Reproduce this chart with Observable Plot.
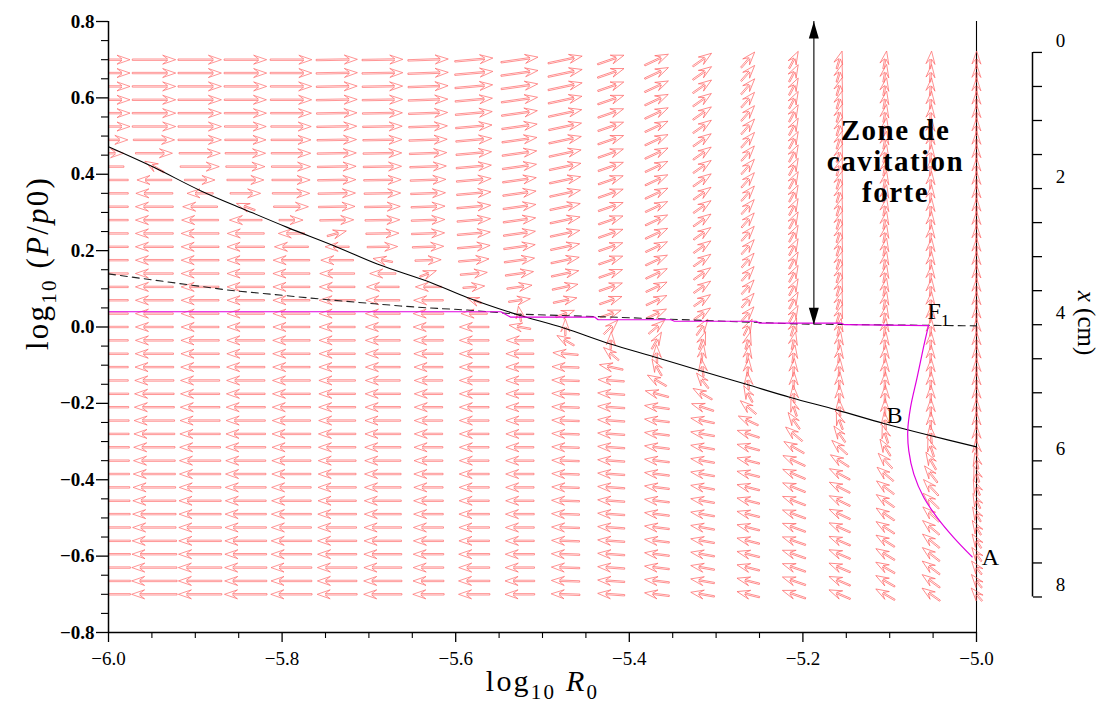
<!DOCTYPE html>
<html><head><meta charset="utf-8">
<script src="https://cdn.jsdelivr.net/npm/d3@7"></script>
<script src="https://cdn.jsdelivr.net/npm/@observablehq/plot@0.6"></script>
<style>
body{margin:0;background:#fff}
svg{display:block}
svg text{font-family:'Liberation Serif','Times New Roman',serif !important}
</style>
</head><body><div id="chart"></div>
<script>
// ---------- grid of the direction field ----------
const gridLogR0 = [-6.0,-5.9474,-5.8947,-5.8421,-5.7895,-5.7368,-5.6842,-5.6316,-5.5789,-5.5263,-5.4737,-5.4211,-5.3684,-5.3158,-5.2632,-5.2105,-5.1579,-5.1053,-5.0526,-5.0];
const gridLogP = [0.7,0.665,0.63,0.595,0.56,0.525,0.49,0.455,0.42,0.385,0.35,0.315,0.28,0.245,0.21,0.175,0.14,0.105,0.07,0.035,0,-0.035,-0.07,-0.105,-0.14,-0.175,-0.21,-0.245,-0.28,-0.315,-0.35,-0.385,-0.42,-0.455,-0.49,-0.525,-0.56,-0.595,-0.63,-0.665,-0.7];

// direction of each arrow (degrees, counter-clockwise from +R0), one array per column, top row first
const arrowAngleByColumn = [
[0,0,0,0,0,0,0,0,180,180,180,180,180,180,180,180,180,180,180,180,180,180,180,180,180,180,180,180,180,180,180,180,180,180,180,180,180,180,180,180,180],
[0,0,0,0,0,0,0,0,150,180,180,180,180,180,180,180,180,180,180,180,180,180,180,180,180,180,180,180,180,180,180,180,180,180,180,180,180,180,180,180,180],
[0,0,0,0,0,0,0,0,0,0,180,180,180,180,180,180,180,180,180,180,180,180,180,180,180,180,180,180,180,180,180,180,180,180,180,180,180,180,180,180,180],
[0,0,0,0,0,0,0,0,0,0,0,160,180,180,180,180,180,180,180,180,180,180,180,180,180,180,180,180,180,180,180,180,180,180,180,180,180,180,180,180,180],
[0,0,0,0,0,0,0,0,0,0,0,0,0,180,180,180,180,180,180,180,180,180,180,180,180,180,180,180,180,180,180,180,180,180,180,180,180,180,180,180,180],
[1,1,1,1,1,1,1,1,1,1,1,1,1,15,180,180,180,180,180,180,180,180,180,180,180,180,180,180,180,180,180,180,180,180,180,180,180,180,180,180,180],
[1,1,1,1,1,1,1,1,1,1,1,1,1,1,1,170,180,180,180,180,180,180,180,180,180,180,180,180,180,180,180,180,180,180,180,180,180,180,180,180,180],
[2,2,2,2,2,2,2,2,2,2,2,2,2,2,2,2,20,180,180,180,180,180,180,180,180,180,180,180,180,180,180,180,180,180,180,180,180,180,180,180,180],
[5,5,5,5,5,5,5,5,5,5,5,5,5,5,5,5,5,5,160,180,180,180,180,180,180,180,180,180,180,180,180,180,180,180,180,180,180,180,180,180,180],
[8,8,8,8,8,8,8,8,8,8,8,8,8,8,8,8,8,8,8,100,170,180,180,180,180,180,180,180,180,180,180,180,180,180,180,180,180,180,180,180,180],
[12,12,12,12,12,12,12,12,12,12,12,12,12,12,12,12,12,12,12,20,90,150,175,178,178,178,178,178,178,178,178,178,178,178,178,178,178,178,178,178,178],
[19,19,19,19,19,19,19,19,19,19,19,19,19,19,19,19,19,19,19,19,45,88,140,168,176,176,176,176,176,176,176,176,176,176,176,176,176,176,176,176,176],
[25,25,25,25,25,25,25,25,25,25,25,25,25,25,25,25,25,25,25,25,40,60,92,120,150,165,172,173,173,173,173,173,173,173,173,173,173,173,173,173,173],
[35,35,35,35,35,35,35,35,35,35,35,35,35,35,35,35,35,35,35,35,55,70,82,97,128,150,162,168,170,170,170,170,170,170,170,170,170,170,170,170,170],
[49,49,49,49,49,49,49,49,49,49,49,49,49,49,49,49,49,49,49,49,63,74,81,86,95,118,140,155,162,165,166,166,166,166,166,166,166,166,166,166,166],
[62,62,62,62,62,62,62,62,62,62,62,62,62,62,62,62,62,62,62,62,72,78,82,86,88,94,108,125,140,150,155,157,158,159,160,160,161,161,161,161,161],
[73,73,73,73,73,73,73,73,73,73,73,73,73,73,73,73,73,73,73,73,78,82,83,86,87,89,95,110,125,138,147,152,153,154,155,156,157,157,157,157,157],
[80,80,80,80,80,80,80,80,80,80,80,80,80,80,80,80,80,80,80,80,83,84,85,86,87,88,89,95,108,122,133,140,143,145,146,147,148,149,150,150,150],
[85,85,85,85,85,85,85,85,85,85,85,85,85,85,85,85,85,85,85,85,87,87,87,87,87,89,89,89,95,108,120,128,133,136,138,140,141,142,143,144,145],
[89,89,89,89,89,89,89,89,89,89,89,89,89,89,89,89,89,89,89,89,90,90,90,90,90,90,90,90,90,95,102,108,113,116,119,121,123,125,127,128,130]
];

// relative magnitude of each arrow (1 = longest arrows of the upper-left), one array per column
const arrowMagnitudeByColumn = [
[1,1,1,1,1,1,.9,.7,.7,.9,.9,.9,.9,.9,.9,.9,.9,.9,.9,.9,.9,.9,.9,.9,.9,.92,.92,.94,.94,.95,.95,.96,.97,.98,.99,1,1,1,1,1,1],
[1,1,1,1,1,1,.95,.85,.5,.8,.85,.87,.87,.87,.87,.87,.87,.87,.87,.87,.87,.87,.88,.89,.9,.91,.92,.93,.94,.95,.96,.97,.98,.99,1,1,1.02,1.03,1.04,1.05,1.05],
[1,1,1,1,1,1,1,.95,.9,.7,.6,.8,.85,.87,.87,.87,.87,.87,.87,.87,.87,.88,.88,.89,.9,.9,.91,.92,.93,.94,.95,.95,.96,.97,.97,.98,.98,.99,1,1,1],
[.98,.98,.98,.97,.97,.96,.95,.93,.9,.85,.7,.45,.75,.85,.86,.86,.86,.86,.86,.86,.86,.87,.87,.88,.88,.89,.9,.9,.91,.92,.92,.93,.94,.94,.95,.95,.96,.96,.97,.97,.98],
[.96,.96,.95,.95,.94,.93,.92,.91,.9,.88,.86,.8,.55,.6,.78,.84,.85,.85,.85,.85,.85,.86,.86,.86,.87,.87,.88,.88,.89,.89,.9,.9,.91,.91,.92,.92,.93,.93,.94,.94,.95],
[.95,.95,.94,.94,.93,.92,.91,.9,.89,.88,.86,.84,.78,.45,.55,.75,.8,.82,.83,.83,.83,.83,.83,.84,.84,.84,.85,.85,.86,.86,.87,.87,.88,.88,.89,.89,.9,.9,.91,.91,.92],
[.94,.94,.93,.93,.92,.91,.9,.89,.88,.86,.84,.82,.8,.76,.7,.45,.6,.75,.78,.8,.8,.8,.8,.8,.8,.81,.81,.82,.82,.83,.83,.84,.84,.85,.85,.86,.86,.87,.87,.88,.88],
[.93,.93,.92,.91,.9,.89,.88,.86,.84,.82,.8,.78,.77,.76,.72,.6,.4,.6,.68,.7,.7,.68,.67,.66,.65,.65,.65,.65,.65,.66,.66,.67,.67,.68,.68,.69,.69,.7,.7,.71,.72],
[.88,.88,.87,.86,.85,.84,.83,.82,.81,.8,.79,.78,.77,.76,.75,.7,.62,.5,.35,.6,.68,.68,.68,.68,.68,.68,.68,.68,.68,.68,.68,.69,.69,.69,.7,.7,.7,.71,.71,.72,.72],
[.86,.86,.85,.84,.83,.82,.81,.8,.79,.78,.77,.76,.75,.74,.73,.7,.65,.58,.5,.35,.5,.62,.64,.64,.64,.64,.64,.64,.64,.64,.65,.65,.65,.65,.66,.66,.66,.67,.67,.68,.68],
[.8,.8,.8,.79,.78,.77,.76,.75,.74,.73,.72,.71,.7,.69,.68,.66,.64,.6,.55,.45,.38,.45,.58,.62,.63,.63,.63,.63,.63,.63,.63,.63,.63,.64,.64,.64,.64,.65,.65,.65,.66],
[.64,.64,.63,.63,.62,.62,.62,.61,.61,.6,.6,.6,.59,.59,.58,.58,.57,.56,.54,.5,.45,.4,.45,.55,.6,.62,.62,.62,.62,.62,.62,.62,.62,.62,.62,.62,.62,.62,.62,.62,.62],
[.6,.6,.6,.59,.59,.58,.58,.58,.57,.57,.57,.56,.56,.56,.55,.55,.54,.53,.52,.5,.47,.44,.42,.44,.5,.55,.57,.57,.57,.57,.57,.57,.57,.57,.57,.57,.57,.57,.57,.57,.57],
[.52,.52,.52,.51,.51,.51,.5,.5,.5,.5,.49,.49,.49,.48,.48,.48,.47,.47,.46,.46,.45,.43,.42,.41,.44,.5,.53,.55,.55,.55,.55,.55,.55,.55,.55,.55,.55,.55,.55,.55,.55],
[.47,.47,.47,.46,.46,.46,.46,.45,.45,.45,.45,.44,.44,.44,.44,.43,.43,.43,.43,.42,.42,.41,.41,.4,.4,.42,.47,.5,.53,.53,.53,.53,.53,.53,.53,.53,.53,.53,.53,.53,.53],
[.44,.44,.44,.44,.44,.44,.44,.44,.44,.44,.43,.43,.43,.43,.43,.43,.43,.43,.43,.43,.42,.41,.41,.4,.4,.4,.42,.46,.5,.53,.56,.56,.56,.56,.56,.56,.56,.56,.56,.56,.56],
[.42,.42,.42,.42,.42,.42,.42,.42,.42,.42,.42,.42,.42,.42,.42,.42,.42,.42,.42,.42,.41,.41,.4,.4,.4,.4,.4,.42,.45,.48,.5,.53,.53,.53,.53,.53,.53,.53,.53,.53,.53],
[.41,.41,.41,.41,.41,.41,.41,.41,.41,.41,.41,.41,.41,.41,.41,.41,.41,.41,.41,.41,.4,.4,.4,.4,.4,.4,.4,.41,.43,.45,.47,.49,.5,.5,.5,.5,.5,.5,.5,.5,.5],
[.4,.4,.4,.4,.4,.4,.4,.4,.4,.4,.4,.4,.4,.4,.4,.4,.4,.4,.4,.4,.4,.4,.4,.4,.4,.4,.4,.4,.42,.44,.46,.48,.5,.5,.5,.5,.5,.5,.5,.5,.5],
[.4,.4,.4,.4,.4,.4,.4,.4,.4,.4,.4,.4,.4,.4,.4,.4,.4,.4,.4,.4,.4,.4,.4,.4,.4,.4,.4,.4,.4,.38,.38,.38,.38,.38,.38,.38,.38,.38,.38,.38,.38]
];

// ---------- curves ----------
const nullclineLogR0 = [-6.0,-5.9478,-5.894,-5.8402,-5.7941,-5.7404,-5.6904,-5.629,-5.5868,-5.5311,-5.4755,-5.4217,-5.3718,-5.318,-5.2661,-5.2143,-5.1605,-5.1068,-5.0568,-5.0];
const nullclineLogP  = [0.472,0.4182,0.3571,0.3047,0.2609,0.213,0.165,0.1168,0.0775,0.034,-0.0027,-0.0446,-0.0779,-0.1146,-0.1494,-0.1846,-0.2176,-0.2527,-0.2823,-0.314];

const dashedLogR0 = [-6.0,-5.8633,-5.7442,-5.6636,-5.629,-5.5868,-5.5311,-5.4332,-5.2834,-5.2028,-5.015,-5.0];
const dashedLogP  = [0.139,0.0969,0.0707,0.055,0.0497,0.0445,0.034,0.027,0.0146,0.0078,0.0034,0.003];

const pathStairLogR0 = [-6.0,-5.548,-5.537,-5.44,-5.436,-5.352,-5.348,-5.254,-5.25,-5.156,-5.152,-5.0553];
const pathStairLogP  = [0.040,0.040,0.026,0.026,0.019,0.019,0.015,0.015,0.010,0.010,0.006,0.0034];

const pathCurveLogR0 = [-5.0553,-5.0611,-5.0684,-5.076,-5.0792,-5.078,-5.0722,-5.0607,-5.0453,-5.0262,-5.005];
const pathCurveLogP  = [0.0034,-0.0535,-0.1321,-0.2107,-0.2718,-0.3242,-0.3853,-0.4466,-0.499,-0.5514,-0.602];

// ---------- annotations ----------
const zoneArrow = {x: -5.1874, top: 0.8, bottom: 0.006};
const zoneLabel = {x: -5.0933, y: 0.434, text: "Zone de\ncavitation\nforte"};
const pointLabels = [
  {text: "F1", x: -5.0438, y: 0.040},
  {text: "B", x: -5.0945, y: -0.2325},
  {text: "A", x: -4.9839, y: -0.602}
];

// ---------- ticks ----------
const yMajorTicks = [-0.8,-0.6,-0.4,-0.2,0,0.2,0.4,0.6,0.8];
const yMinorTicks = [-0.75,-0.7,-0.65,-0.55,-0.5,-0.45,-0.35,-0.3,-0.25,-0.15,-0.1,-0.05,0.05,0.1,0.15,0.25,0.3,0.35,0.45,0.5,0.55,0.65,0.7,0.75];
const xMajorTicks = [-6.0,-5.8,-5.6,-5.4,-5.2,-5.0];
const xMinorTicks = [-5.95,-5.9,-5.85,-5.75,-5.7,-5.65,-5.55,-5.5,-5.45,-5.35,-5.3,-5.25,-5.15,-5.1,-5.05];
// secondary axis: position x (cm); its 0 cm and 8 cm ends expressed on the log10(P/p0) scale
const cmAxisDomain = [0, 8];
const cmAxisOnLogP = [0.719, -0.707];
const cmTicks = [0,0.5,1,1.5,2,2.5,3,3.5,4,4.5,5,5.5,6,6.5,7,7.5,8];
const cmTickLabels = [0,2,4,6,8];

// ---------- build tables ----------
const arrows = [];
gridLogR0.forEach((x, j) => gridLogP.forEach((y, i) => {
  arrows.push({x, y, col: j, angle: arrowAngleByColumn[j][i], mag: arrowMagnitudeByColumn[j][i]});
}));
const zip = (xs, ys) => xs.map((x, k) => ({x, y: ys[k]}));
const nullcline = zip(nullclineLogR0, nullclineLogP);
const dashed = zip(dashedLogR0, dashedLogP);
const pathStair = zip(pathStairLogR0, pathStairLogP);
const pathCurve = zip(pathCurveLogR0, pathCurveLogP);
const cmToLogP = d3.scaleLinear(cmAxisDomain, cmAxisOnLogP);

// quiver-style outlined arrow with swept-back barbs (head of constant size)
const quiverShape = {
  draw(context, l) {
    const hl = Math.min(13, l * 0.8), hw = 4.5, sw = 0.7, hb = hl * 0.62;
    context.moveTo(-sw, 0);
    context.lineTo(-sw, -l + hb);
    context.lineTo(-hw, -l + hl);
    context.lineTo(0, -l);
    context.lineTo(hw, -l + hl);
    context.lineTo(sw, -l + hb);
    context.lineTo(sw, 0);
    context.closePath();
  }
};
const solidHead = {
  draw(context, l) {
    context.moveTo(0, -l);
    context.lineTo(-5, 0);
    context.lineTo(5, 0);
    context.closePath();
  }
};

const arrowStyle = {
  x: "x", y: "y", rotate: d => 90 - d.angle, length: "mag", anchor: "middle",
  shape: quiverShape, stroke: "#ff6464", strokeOpacity: 0.85, strokeWidth: 0.8, fill: "none"
};

const svg = Plot.plot({
  width: 1106, height: 718,
  marginLeft: 108, marginRight: 130, marginTop: 21, marginBottom: 86,
  style: "font-family: 'Liberation Serif', 'Times New Roman', serif; background: white; color: black; overflow: visible;",
  x: {domain: [-6, -5]},
  y: {domain: [-0.8, 0.8]},
  length: {domain: [0, 1], range: [0, 43]},
  marks: [
    Plot.ruleX([-5.0], {stroke: "black", strokeWidth: 1.1}),
    Plot.vector(arrows.filter(d => d.col === 0), {...arrowStyle, clip: true}),
    Plot.vector(arrows.filter(d => d.col > 0), arrowStyle),
    Plot.line(dashed, {x: "x", y: "y", stroke: "#222", strokeWidth: 1.1, strokeDasharray: "7,5"}),
    Plot.line(nullcline, {x: "x", y: "y", curve: "catmull-rom", stroke: "black", strokeWidth: 1.1}),
    Plot.line(pathStair, {x: "x", y: "y", stroke: "#e000e0", strokeWidth: 1.2}),
    Plot.line(pathCurve, {x: "x", y: "y", curve: "catmull-rom", stroke: "#e000e0", strokeWidth: 1.2}),
    // double-headed arrow of the strong cavitation zone
    Plot.ruleX([zoneArrow], {x: "x", y1: "bottom", y2: "top", stroke: "#444", strokeWidth: 1.5}),
    Plot.vector([zoneArrow], {x: "x", y: "top", rotate: 0, length: 17, anchor: "end", shape: solidHead, fill: "black", stroke: "none"}),
    Plot.vector([zoneArrow], {x: "x", y: "bottom", rotate: 180, length: 17, anchor: "end", shape: solidHead, fill: "black", stroke: "none"}),
    Plot.text([zoneLabel], {x: "x", y: "y", text: "text", fontWeight: "bold", fontSize: 29, lineHeight: 1.07}),
    Plot.text(pointLabels, {x: "x", y: "y", text: "text", fontSize: 24, textAnchor: d => d.text === "F1" ? "start" : "middle"}),
    // left axis
    Plot.ruleX([-6], {stroke: "black", strokeWidth: 1.5}),
    Plot.axisY(yMajorTicks, {anchor: "left", tickSize: 12, tickPadding: 2, strokeWidth: 1.3, tickFormat: d3.format(".1f"), fontSize: 19, fontWeight: "bold", label: null}),
    Plot.axisY(yMinorTicks, {anchor: "left", tickSize: 7, strokeWidth: 1.1, tickFormat: () => "", label: null}),
    // bottom axis
    Plot.ruleY([-0.8], {stroke: "black", strokeWidth: 1.5}),
    Plot.axisX(xMajorTicks, {anchor: "bottom", tickSize: 10, tickPadding: 9, strokeWidth: 1.3, tickFormat: d3.format(".1f"), fontSize: 19, label: null}),
    Plot.axisX(xMinorTicks, {anchor: "bottom", tickSize: 6, strokeWidth: 1.1, tickFormat: () => "", label: null}),
    // secondary axis x (cm)
    Plot.ruleX([{x: -5.0, y1: cmToLogP(0), y2: cmToLogP(8)}], {x: "x", y1: "y1", y2: "y2", dx: 56, stroke: "black", strokeWidth: 1.5}),
    Plot.axisY(cmTicks.map(cmToLogP), {anchor: "right", dx: 56, tickSize: 9, strokeWidth: 1.3, tickFormat: () => "", label: null}),
    Plot.text(cmTickLabels, {x: () => -5.0, y: d => cmToLogP(d), text: d => String(d), dx: 84, dy: -12, fontSize: 19}),
    // axis titles
    Plot.text(["log10(P/p0)"], {frameAnchor: "left", textAnchor: "middle", dx: -70, dy: -64, rotate: -90, fontSize: 31}),
    Plot.text(["log10 R0"], {frameAnchor: "bottom", textAnchor: "middle", dy: 58, fontSize: 30}),
    Plot.text(["x (cm)"], {frameAnchor: "right", textAnchor: "middle", dx: 109, dy: -4, rotate: 90, fontSize: 25})
  ]
});

// math-style typesetting of a few labels (subscripts, italics)
d3.select(svg).selectAll("text").each(function() {
  const t = this.textContent;
  if (t === "log10(P/p0)") this.innerHTML = 'log<tspan dy="8" font-size="21">10</tspan><tspan dy="-8"> (</tspan><tspan font-style="italic">P</tspan>/<tspan font-style="italic">p</tspan>0)';
  else if (t === "log10 R0") this.innerHTML = 'log<tspan dy="8" font-size="21">10</tspan><tspan dy="-8"> </tspan><tspan font-style="italic">R</tspan><tspan dy="8" font-size="21">0</tspan>';
  else if (t === "F1") this.innerHTML = 'F<tspan dy="7" font-size="17">1</tspan>';
  else if (t === "x (cm)") this.innerHTML = '<tspan font-style="italic">x</tspan> (cm)';
});
const sel = d3.select(svg).selectAll("text");
sel.filter(function() { return this.textContent.startsWith("log10"); }).attr("letter-spacing", "2.2");
sel.filter(function() { return this.textContent.startsWith("Zone") || this.textContent === "cavitation" || this.textContent === "forte"; }).attr("letter-spacing", "1.5");

document.getElementById("chart").appendChild(svg);
</script></body></html>
